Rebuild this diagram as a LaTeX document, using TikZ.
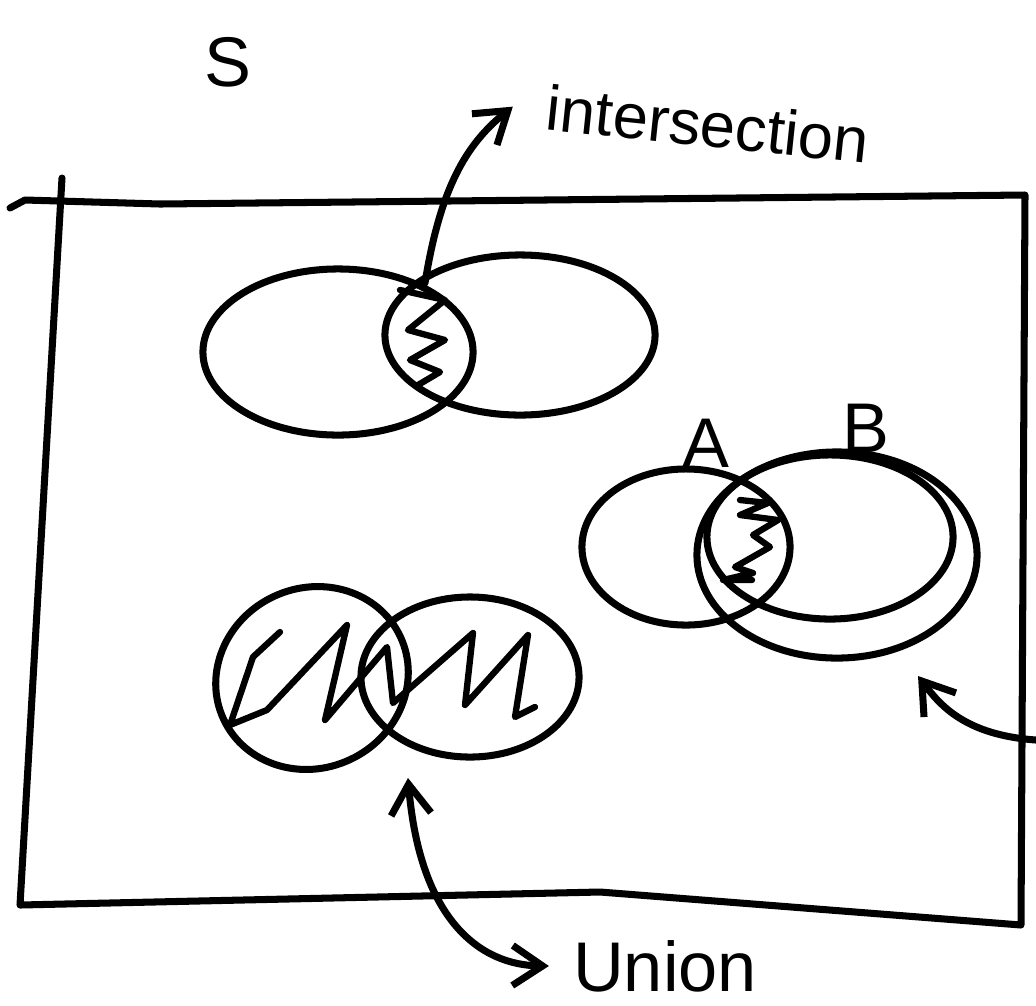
\documentclass[tikz,border=0pt]{standalone}
\usepackage{fontspec}
\setmainfont{Liberation Sans}
\usepackage{xcolor}
\definecolor{cInk}{HTML}{000000}
\usetikzlibrary{positioning,arrows.meta,shapes.geometric,calc}
\tikzset{
  ink/.style={draw=cInk,line width=2pt,line cap=round,line join=round},
  set-oval/.style={ink,ellipse,inner sep=0pt},
  hatch/.style={ink,line width=1.8pt},
  label-text/.style={font=\fontsize{20}{24}\selectfont,text=cInk,inner sep=1pt},
  arrow/.style={ink,-{Straight Barb[length=3mm,width=4mm]}},
}

\begin{document}
\begin{tikzpicture}[x=0.01cm,y=-0.01cm]
  \useasboundingbox (0,0) rectangle (1036,1005);
  % sample space
  \draw[ink] (10,208) -- (25,200) -- (160,204) -- (1025,195) -- (1021,925)
    -- (600,892) -- (20,905) -- (62,178);
  \node[label-text] (lblS) at (228,62) {S};

  % intersection
  \node[set-oval,minimum width=2.7cm,minimum height=1.66cm] (setL) at (338,352) {};
  \node[set-oval,minimum width=2.7cm,minimum height=1.6cm] (setR) at (520,335) {};
  \draw[hatch] (400,290) -- (445,300) -- (408,330) -- (445,340) -- (410,360)
    -- (440,372) -- (418,385);
  \node[label-text,rotate=-6,font=\fontsize{18}{22}\selectfont] (lblInt) at (708,124) {intersection};
  \coordinate (lensTip) at (425,283);
  \draw[arrow] (lensTip) .. controls (440,190) and (465,145) .. ([xshift=-3mm]lblInt.west);

  % A and B
  \node[set-oval,minimum width=2.08cm,minimum height=1.56cm] (setA) at (686,547) {};
  \node[set-oval,minimum width=2.46cm,minimum height=1.64cm] (setB) at (830,537) {};
  \node[set-oval,minimum width=2.8cm,minimum height=2.06cm] (ringB) at (837,555) {};
  \draw[hatch] (740,500) -- (768,503) -- (740,515) -- (778,520) -- (753,535)
    -- (770,547) -- (735,567) -- (753,573) -- (723,580) -- (752,580);
  \node[label-text] (lblA) at (706,443) {A};
  \node[label-text] (lblB) at (866,428) {B};
  \coordinate (offR) at (1036,740);
  \coordinate (ringTip) at (918,676);
  \draw[arrow] (offR) .. controls (965,735) and (940,705) .. (ringTip);

  % union
  \node[set-oval,minimum width=1.95cm,minimum height=1.8cm,rotate=25] (uniL) at (312,678) {};
  \node[set-oval,minimum width=2.18cm,minimum height=1.6cm] (uniR) at (470,677) {};
  \draw[hatch] (280,632) -- (253,657) -- (230,725) -- (267,710) -- (347,625)
    -- (325,720) -- (387,647) -- (393,703) -- (473,633) -- (465,705)
    -- (528,635) -- (515,717) -- (535,707);
  \node[label-text] (lblUni) at (665,966) {Union};
  \coordinate (uniTip) at (408,778);
  \draw[arrow,{Straight Barb[length=3mm,width=4mm]}-{Straight Barb[length=3mm,width=4mm]}]
    ([xshift=-2mm]lblUni.west) .. controls (480,965) and (420,920) .. (uniTip);
\end{tikzpicture}
\end{document}
